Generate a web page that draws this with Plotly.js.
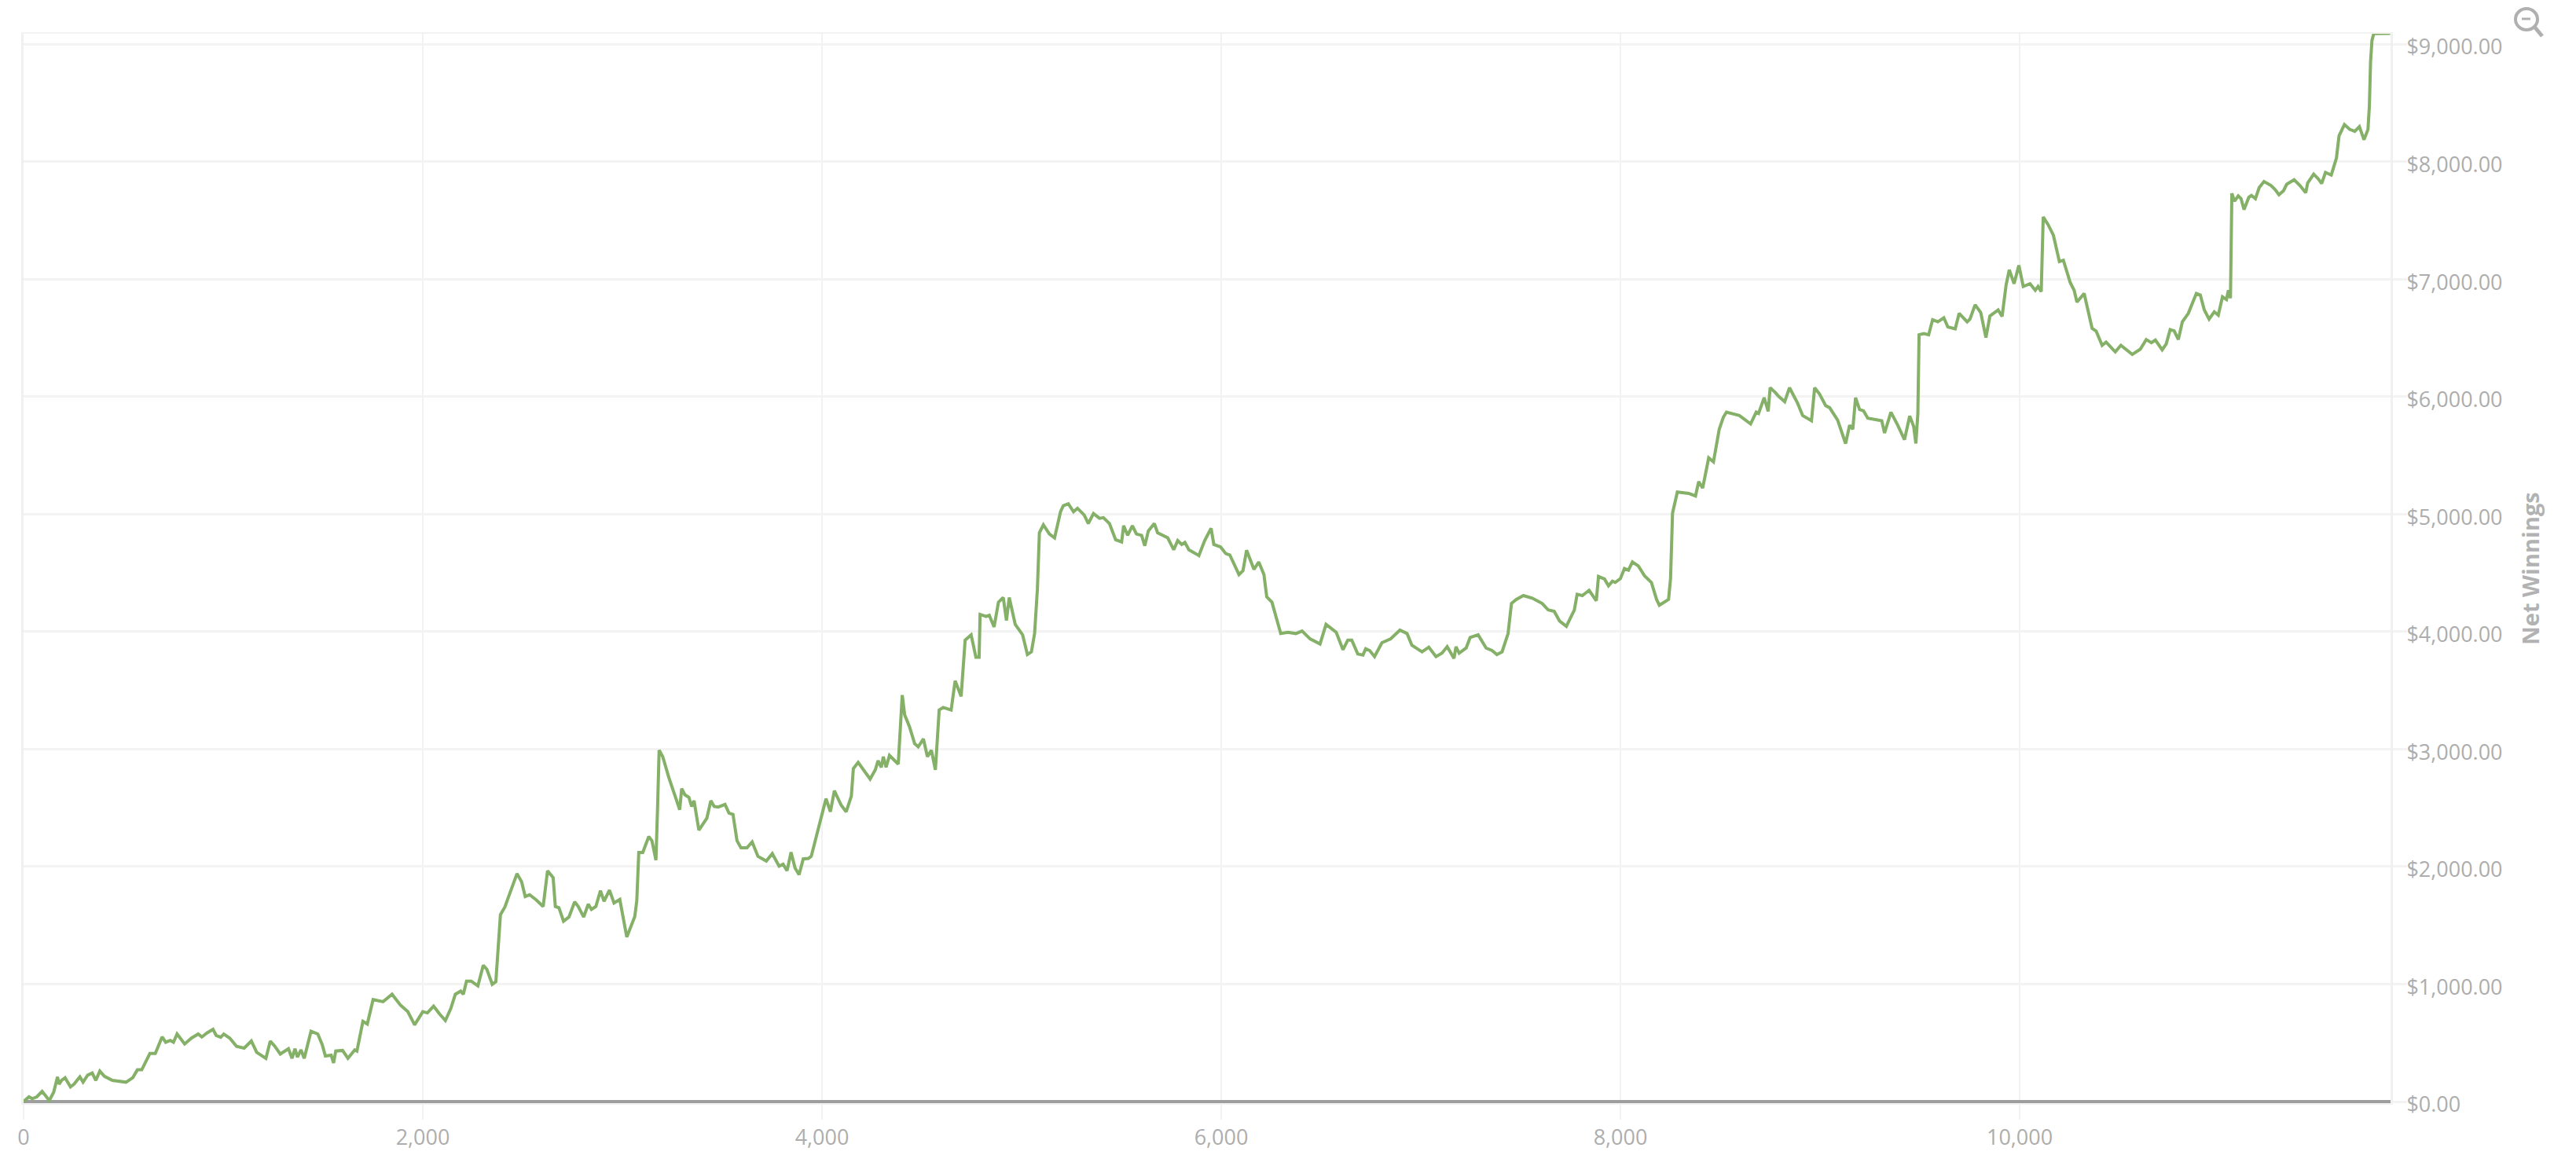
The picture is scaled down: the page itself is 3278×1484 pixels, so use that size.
<!DOCTYPE html>
<html>
<head>
<meta charset="utf-8">
<script src="https://cdn.plot.ly/plotly-3.0.1.min.js"></script>
<style>html,body{margin:0;padding:0;background:#fff}#chart{width:3278px;height:1484px}</style>
</head>
<body>
<div id="chart"></div>
<script>
var handsPlayed = [
0,27,43,66,93,113,129,151,170,178,190,208,235,253,282,298,321,344,362,382,405,445,486,513,547,570,592,633,660,694,712,735,751,769,807,841,875,893,920,949,965,988,1003,1033,1067,1105,1141,1168,1214,1236,1259,1286,1327,1345,1360,1372,1390,1406,1440,1474,1496,1512,1541,1553,1564,1598,1625,1659,1670,1700,1722,1751,1801,1846,1887,1925,1959,2000,2023,2054,2084,2113,2140,2163,2190,2203,2219,2242,2276,2303,2321,2348,2366,2378,2389,2411,2439,2472,2495,2513,2535,2569,2603,2625,2653,2664,2682,2705,2732,2761,2779,2806,2829,2845,2867,2890,2908,2935,2958,2987,
3022,3062,3072,3082,3102,3132,3148,3168,3176,3184,3202,3233,3273,3287,3297,3313,3333,3347,3359,3383,3423,3443,3460,3480,3514,3534,3554,3574,3594,3624,3650,3679,3721,3751,3785,3805,3825,3845,3865,3885,3906,3932,3946,3972,3986,4020,4042,4062,4096,4121,4147,4157,4181,4207,4241,4267,4281,4297,4307,4321,4338,4358,4382,4402,4414,4438,4464,4482,4508,4528,4548,4568,
4587,4607,4647,4667,4697,4717,4747,4771,4787,4792,4822,4838,4862,4884,4908,4924,4938,4968,5005,5029,5049,5065,5079,5089,5109,5139,5165,5195,5209,5234,5260,5280,5314,5334,5360,5390,5410,5440,5471,5501,5511,5531,5555,5575,5601,5617,5635,5665,5681,5732,5762,5782,5802,5818,5838,5888,5917,5949,5963,5997,6023,6043,6089,6109,6127,6164,6188,6214,6228,6254,6298,6334,6374,6405,6445,6495,6525,6576,
6610,6634,6654,6684,6710,6724,6744,6768,6805,6849,6895,6931,6955,7006,7040,7076,7106,7132,7166,7176,7192,7227,7247,7287,7327,7357,7381,7407,7437,7454,7478,7514,7558,7608,7638,7668,7695,7729,7769,7783,7809,7843,7879,7890,7920,7940,7960,7974,8000,8020,8040,8060,8090,8121,8155,8181,8195,8241,8251,8261,8285,8342,8376,8392,8412,8442,8466,
8495,8515,8531,8596,8652,8680,8692,8720,8740,8750,8776,8793,8823,8847,8887,8913,8957,8973,8997,9028,9048,9088,9128,9148,9164,9178,9198,9218,9239,9309,9323,9355,9389,9423,9449,9469,9480,9490,9496,9520,9544,9564,9590,9620,9640,9677,9697,9737,9751,9777,9805,9831,9851,9892,9912,9932,9948,9972,9996,10018,10052,10078,10092,10108,10118,10143,10169,10199,10219,10253,10273,10287,10323,10363,10383,10413,10433,10479,10507,10564,10604,10634,10660,10680,10714,10734,10754,10774,10795,10815,10845,10885,10905,10925,10949,10975,10995,11016,11036,11046,11056,
11063,11076,11095,11109,11124,11148,11161,11181,11200,11224,11259,11279,11299,11322,11338,11375,11404,11433,11443,11473,11496,11513,11532,11561,11577,11587,11600,11627,11653,11679,11702,11725,11745,11752,11758,11765,11774,11856
];
var netWinnings = [
0,40,25,40,87,47,9,80,210,148,180,203,125,148,210,165,225,243,180,260,215,180,170,165,203,270,270,410,410,550,505,520,505,575,490,540,575,550,585,615,563,548,575,540,470,455,515,418,368,515,470,405,450,368,450,378,440,368,598,575,485,388,395,328,430,435,368,440,430,683,660,868,850,913,823,765,653,765,755,812,745,690,790,913,940,913,1025,1025,985,1160,1125,998,1020,1318,1590,1655,1790,1940,1870,1745,1760,1715,1660,1965,1905,1660,1650,1535,1570,1700,1660,1570,1680,1635,1660,1795,1705,1800,1690,1720,
1400,1575,1708,2120,2120,2255,2220,2054,2489,2990,2935,2756,2555,2484,2663,2611,2589,2511,2560,2310,2411,2560,2511,2506,2529,2455,2444,2221,2159,2159,2210,2087,2047,2110,2003,2020,1965,2121,1987,1931,2065,2069,2087,2266,2366,2578,2466,2645,2522,2466,2600,2834,2886,2823,2745,2823,2901,2845,2935,2845,2946,2912,2872,3459,3291,3191,3046,3019,3086,2935,2990,2823,
3332,3354,3332,3581,3448,3927,3972,3782,3782,4146,4128,4139,4039,4250,4290,4094,4290,4061,3972,3804,3827,3983,4362,4841,4908,4830,4797,5020,5071,5087,5020,5049,4991,4919,5004,4964,4969,4919,4781,4763,4901,4819,4901,4830,4819,4730,4857,4919,4841,4797,4696,4774,4741,4759,4696,4647,4774,4879,4741,4719,4663,4652,4485,4518,4692,4529,4592,4485,4295,4250,3983,3994,3983,4005,3938,3894,4061,3994,
3845,3927,3927,3809,3800,3853,3838,3787,3905,3938,4012,3983,3883,3827,3867,3787,3816,3871,3771,3871,3816,3860,3949,3972,3860,3838,3804,3827,3983,4239,4273,4306,4284,4239,4184,4172,4090,4045,4184,4317,4306,4351,4262,4469,4447,4389,4429,4418,4451,4536,4522,4592,4558,4473,4418,4273,4224,4273,4451,5008,5187,5176,5154,5276,5221,5478,5444,
5722,5822,5867,5838,5767,5867,5856,5990,5874,6075,6034,6001,5956,6075,5945,5838,5794,6075,6023,5923,5905,5800,5600,5756,5722,5990,5889,5878,5816,5794,5689,5867,5756,5633,5834,5745,5600,5856,6525,6536,6525,6654,6636,6670,6592,6576,6708,6636,6659,6781,6714,6502,6685,6737,6681,6949,7078,6960,7116,6937,6960,6904,6937,6892,7528,7461,7372,7149,7160,6971,6904,6803,6877,6580,6558,6436,6463,6380,6436,6358,6402,6485,6458,6481,6398,6447,6570,6559,6485,6636,6708,6877,6864,6737,6659,6721,6692,6848,6826,6904,6837,
7729,7662,7707,7684,7591,7696,7711,7684,7778,7830,7796,7763,7718,7752,7807,7845,7796,7734,7818,7892,7852,7812,7907,7885,7963,8030,8219,8314,8274,8257,8297,8185,8274,8474,8853,9031,9088,9090
];
var xTickStep = 2000;
var yTickStep = 1000;
var axisTitle = "Net Winnings";

var labelFont = {family: '"Open Sans", "Noto Sans", sans-serif', size: 27, color: '#adadad'};
var W = 3278, H = 1484;
var marginL = 30, marginR = 236, marginT = 43, marginB = 80;
var plotW = W - marginL - marginR, plotH = H - marginT - marginB;
function px(v){ return (v - marginL) / plotW; }
function py(v){ return (H - marginB - v) / plotH; }

Plotly.newPlot('chart', [{
  type: 'scatter', mode: 'lines',
  x: handsPlayed, y: netWinnings,
  line: {color: '#85b068', width: 4, shape: 'linear'},
  hoverinfo: 'x+y', showlegend: false
}], {
  width: W, height: H,
  margin: {l: marginL, r: marginR, t: marginT, b: marginB, pad: 0},
  paper_bgcolor: '#ffffff', plot_bgcolor: '#ffffff',
  showlegend: false,
  xaxis: {
    range: [0, 11858], dtick: xTickStep, tick0: 0, tickformat: ',d',
    showgrid: true, gridcolor: '#f2f2f2', gridwidth: 2,
    zeroline: false,
    showline: true, linecolor: '#f2f2f2', linewidth: 2, mirror: true,
    ticks: 'outside', ticklen: 19, tickwidth: 2, tickcolor: '#f2f2f2',
    tickfont: labelFont, automargin: false
  },
  yaxis: {
    side: 'right',
    range: [-13.4, 9087], dtick: yTickStep, tick0: 0, tickformat: '$,.2f',
    showgrid: true, gridcolor: '#f3f3f3', gridwidth: 3,
    zeroline: true, zerolinecolor: '#9e9e9e', zerolinewidth: 4,
    showline: true, linecolor: '#f0f0f0', linewidth: 3, mirror: true,
    ticks: 'outside', ticklen: 18, tickwidth: 3, tickcolor: '#f3f3f3',
    tickfont: labelFont, automargin: false,
    ticklabelstandoff: -6, ticklabelshift: 4,
    title: {text: axisTitle, font: {family: '"Open Sans", "Noto Sans", sans-serif', size: 29, color: '#b2b2b2', weight: 700}, standoff: 28}
  },
  shapes: [
    {type: 'circle', xref: 'paper', yref: 'paper', x0: px(3201), x1: px(3229), y0: py(11), y1: py(38), line: {color: '#b0b0b0', width: 4}, fillcolor: 'rgba(0,0,0,0)'},
    {type: 'line', xref: 'paper', yref: 'paper', x0: px(3225), y0: py(34), x1: px(3235), y1: py(46), line: {color: '#b0b0b0', width: 5}},
    {type: 'line', xref: 'paper', yref: 'paper', x0: px(3209), y0: py(24), x1: px(3220), y1: py(24), line: {color: '#b0b0b0', width: 3}}
  ]
}, {displayModeBar: false});
</script>
</body>
</html>
